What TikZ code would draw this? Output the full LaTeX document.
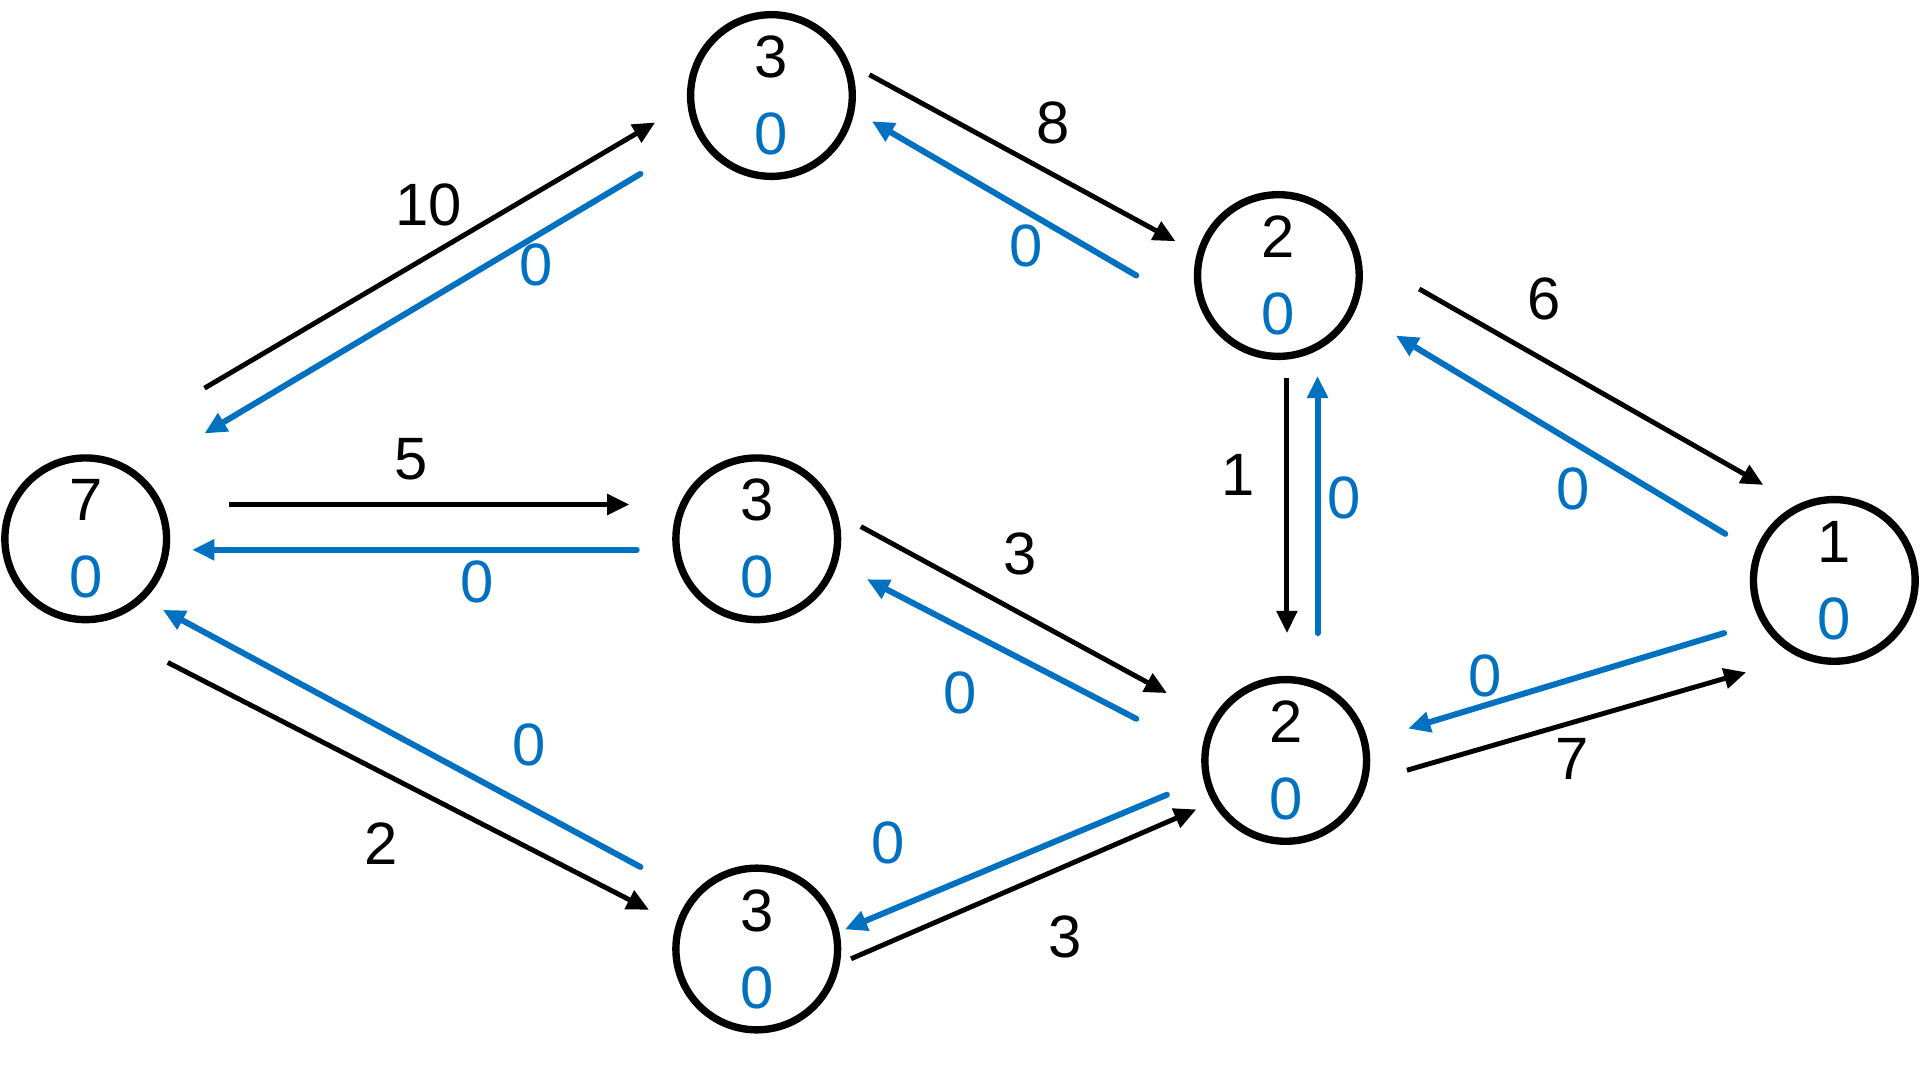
\documentclass[tikz,border=0pt]{standalone}
\usepackage{fontspec}
\setmainfont{Liberation Sans}
\usepackage{xcolor}
\usetikzlibrary{arrows.meta}
\definecolor{flowblue}{RGB}{0,112,192}

\begin{document}
\begin{tikzpicture}[x=0.0122449cm,y=-0.0122449cm,
      vertex/.style={circle,draw,line width=2.1pt,minimum size=1.616cm,inner sep=1pt,
                     align=center,font=\fontsize{17}{21.9}\selectfont},
      fwd/.style={line width=1.4pt,-{Triangle[length=6.3pt,width=5.7pt]}},
      bwd/.style={fwd,line width=1.7pt,line cap=round,color=flowblue},
      num/.style={inner sep=0pt,font=\fontsize{17}{21.9}\selectfont},
      numb/.style={num,text=flowblue}]
      \useasboundingbox (0,0) rectangle (1568,869);

      \node[vertex] (s) at (70,440) {7\\\textcolor{flowblue}{0}};
      \node[vertex] (a) at (630,78) {3\\\textcolor{flowblue}{0}};
      \node[vertex] (b) at (618,440) {3\\\textcolor{flowblue}{0}};
      \node[vertex] (c) at (618,775) {3\\\textcolor{flowblue}{0}};
      \node[vertex] (d) at (1044,225) {2\\\textcolor{flowblue}{0}};
      \node[vertex] (e) at (1050,621) {2\\\textcolor{flowblue}{0}};
      \node[vertex] (t) at (1498,474) {1\\\textcolor{flowblue}{0}};

      \draw[fwd] ([shift={(97,-123)}]s.center) -- ([shift={(-95,22)}]a.center);
      \draw[bwd] ([shift={(-107,64)}]a.center) -- ([shift={(97,-86)}]s.center);
      \draw[fwd] ([shift={(117,-28)}]s.center) -- ([shift={(-104,-28)}]b.center);
      \draw[bwd] ([shift={(-98,9)}]b.center) -- ([shift={(87,9)}]s.center);
      \draw[fwd] ([shift={(67,101)}]s.center) -- ([shift={(-88,-32)}]c.center);
      \draw[bwd] ([shift={(-95,-67)}]c.center) -- ([shift={(63,58)}]s.center);
      \draw[fwd] ([shift={(80,-17)}]a.center) -- ([shift={(-84,-28)}]d.center);
      \draw[bwd] ([shift={(-116,0)}]d.center) -- ([shift={(82,21)}]a.center);
      \draw[fwd] ([shift={(85,-10)}]b.center) -- ([shift={(-97,-55)}]e.center);
      \draw[bwd] ([shift={(-122,-34)}]e.center) -- ([shift={(90,33)}]b.center);
      \draw[fwd] ([shift={(77,8)}]c.center) -- ([shift={(-73,40)}]e.center);
      \draw[bwd] ([shift={(-97,28)}]e.center) -- ([shift={(72,-16)}]c.center);
      \draw[fwd] ([shift={(7,84)}]d.center) -- ([shift={(1,-104)}]e.center);
      \draw[bwd] ([shift={(26,-104)}]e.center) -- ([shift={(32,82)}]d.center);
      \draw[fwd] ([shift={(115,11)}]d.center) -- ([shift={(-58,-78)}]t.center);
      \draw[bwd] ([shift={(-89,-38)}]t.center) -- ([shift={(96,49)}]d.center);
      \draw[fwd] ([shift={(99,8)}]e.center) -- ([shift={(-72,75)}]t.center);
      \draw[bwd] ([shift={(-90,43)}]t.center) -- ([shift={(100,-26)}]e.center);

      \node[num] (lsa) at (350,167) {10};
      \node[numb] (las) at (438,216) {0};
      \node[num] (lsb) at (336,375) {5};
      \node[numb] (lbs) at (390,475) {0};
      \node[num] (lsc) at (311,689) {2};
      \node[numb] (lcs) at (432,608) {0};
      \node[num] (lad) at (860,100) {8};
      \node[numb] (lda) at (838,201) {0};
      \node[num] (lbe) at (833,452) {3};
      \node[numb] (leb) at (784,566) {0};
      \node[num] (lce) at (870,765) {3};
      \node[numb] (lec) at (725,688) {0};
      \node[num] (lde) at (1011,388) {1};
      \node[numb] (led) at (1098,407) {0};
      \node[num] (ldt) at (1261,244) {6};
      \node[numb] (ltd) at (1285,399) {0};
      \node[num] (let) at (1284,620) {7};
      \node[numb] (lte) at (1213,552) {0};
    \end{tikzpicture}
\end{document}
